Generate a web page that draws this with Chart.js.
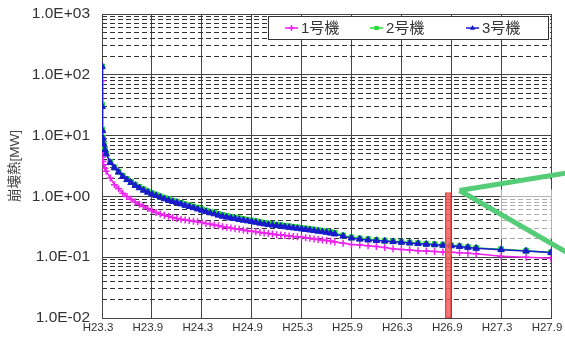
<!DOCTYPE html>
<html><head><meta charset="utf-8">
<script src="https://cdn.jsdelivr.net/npm/chart.js@4.4.1/dist/chart.umd.min.js"></script>
<style>html,body{margin:0;padding:0;background:#fff;}#wrap{width:565px;height:338px;position:relative;}</style>
</head><body><div id="wrap"><canvas id="c" width="565" height="338"></canvas></div>
<script>
const seriesNames = ['1号機', '2号機', '3号機'];
// months elapsed since H23.3
const months = [0, 0.02, 0.05, 0.1, 0.2, 0.35,
  0.5, 1, 1.5, 2, 2.5, 3, 3.5, 4, 4.5, 5, 5.5, 6, 6.5, 7, 7.5, 8, 8.5, 9, 9.5, 10,
  10.5, 11, 11.5, 12, 12.5, 13, 13.5, 14, 14.5, 15, 15.5, 16, 16.5, 17, 17.5, 18, 18.5, 19, 19.5, 20,
  20.5, 21, 21.5, 22, 22.5, 23, 23.5, 24, 24.5, 25, 25.5, 26, 26.5, 27, 27.5, 28,
  29, 30, 31, 32, 33, 34, 35, 36, 37, 38, 39, 40, 41, 42, 43, 44, 45,
  48, 51, 54];
const unit1 = [80, 8, 4.4, 3.8, 3.3, 2.9,
  2.6, 2.0, 1.56, 1.34, 1.13, 1.0, 0.9, 0.81, 0.74, 0.68, 0.63, 0.58, 0.545, 0.515, 0.49, 0.47, 0.45, 0.435, 0.42, 0.41,
  0.4, 0.39, 0.382, 0.372, 0.36, 0.35, 0.34, 0.328, 0.318, 0.31, 0.302, 0.294, 0.287, 0.28, 0.273, 0.267, 0.262, 0.256, 0.25, 0.245,
  0.24, 0.235, 0.231, 0.227, 0.223, 0.219, 0.216, 0.212, 0.208, 0.204, 0.2, 0.196, 0.192, 0.188, 0.184, 0.178,
  0.17, 0.162, 0.158, 0.154, 0.15, 0.145, 0.138, 0.134, 0.131, 0.128, 0.126, 0.124, 0.122, 0.121, 0.118, 0.116, 0.114,
  0.104, 0.1, 0.096];
const unit2 = [137, 32, 12.5, 9.3, 7.4, 6.0,
  5.1, 3.7, 3.0, 2.56, 2.18, 1.93, 1.73, 1.56, 1.43, 1.31, 1.21, 1.13, 1.07, 1.0, 0.95, 0.9, 0.85, 0.82, 0.78, 0.74,
  0.71, 0.68, 0.65, 0.615, 0.585, 0.56, 0.54, 0.515, 0.495, 0.475, 0.46, 0.45, 0.435, 0.423, 0.412, 0.4, 0.39, 0.378, 0.367, 0.358,
  0.35, 0.343, 0.336, 0.329, 0.322, 0.315, 0.309, 0.302, 0.296, 0.29, 0.284, 0.278, 0.272, 0.266, 0.259, 0.25,
  0.228, 0.212, 0.203, 0.197, 0.192, 0.187, 0.183, 0.179, 0.174, 0.17, 0.166, 0.163, 0.16, 0.157, 0.152, 0.147, 0.142,
  0.135, 0.128, 0.12];
const unit3 = [137, 30, 12, 9, 7.2, 5.8,
  5.0, 3.6, 2.95, 2.5, 2.12, 1.88, 1.68, 1.51, 1.38, 1.26, 1.17, 1.09, 1.03, 0.97, 0.91, 0.86, 0.82, 0.79, 0.75, 0.71,
  0.68, 0.65, 0.62, 0.59, 0.56, 0.535, 0.515, 0.49, 0.47, 0.455, 0.44, 0.43, 0.415, 0.405, 0.395, 0.385, 0.375, 0.362, 0.352, 0.343,
  0.336, 0.33, 0.323, 0.316, 0.309, 0.303, 0.297, 0.291, 0.285, 0.279, 0.273, 0.267, 0.262, 0.256, 0.248, 0.24,
  0.222, 0.206, 0.198, 0.192, 0.188, 0.184, 0.18, 0.176, 0.171, 0.167, 0.163, 0.16, 0.157, 0.154, 0.15, 0.145, 0.14,
  0.133, 0.126, 0.119];
const xTickMonths = [0, 6, 12, 18, 24, 30, 36, 42, 48, 54];
const xTickLabels = ['H23.3', 'H23.9', 'H24.3', 'H24.9', 'H25.3', 'H25.9', 'H26.3', 'H26.9', 'H27.3', 'H27.9'];
const yTickValues = [0.01, 0.1, 1, 10, 100, 1000];
const yTickLabels = ['1.0E-02', '1.0E-01', '1.0E+00', '1.0E+01', '1.0E+02', '1.0E+03'];
const highlightMonth = [41.65];
const highlightRange = [0.01, 1.16];
const yTitle = '崩壊熱[MW]';

const colors = ['#ee22ee', '#22dd33', '#1a1acc'];
const styles = ['cross', 'rect', 'triangle'];
const radii = [3.5, 3.5, 3.8];
const seriesValues = [unit1, unit2, unit3];
const FONT = "'Liberation Sans', 'Noto Sans CJK JP', sans-serif";

// minor grid values (2..9 x decade)
const yMinorValues = [];
for (let i = 0; i < yTickValues.length - 1; i++) {
  for (let k = 2; k <= 9; k++) yMinorValues.push(+(yTickValues[i] * k).toPrecision(3));
}

function drawMarker(ctx, style, x, y, r, color) {
  ctx.save();
  ctx.strokeStyle = color; ctx.fillStyle = color; ctx.lineWidth = 1.5;
  ctx.beginPath();
  if (style === 'cross') {
    ctx.moveTo(x - r, y); ctx.lineTo(x + r, y); ctx.moveTo(x, y - r); ctx.lineTo(x, y + r); ctx.stroke();
  } else if (style === 'rect') {
    const s = r * Math.SQRT1_2; ctx.rect(x - s, y - s, 2 * s, 2 * s); ctx.fill();
  } else {
    ctx.moveTo(x, y - r); ctx.lineTo(x + r * 0.9, y + r * 0.6); ctx.lineTo(x - r * 0.9, y + r * 0.6); ctx.closePath(); ctx.fill();
  }
  ctx.restore();
}

const decorPlugin = {
  id: 'decor',
  afterDatasetsDraw(chart) {
    const ctx = chart.ctx, a = chart.chartArea, xs = chart.scales.x, ys = chart.scales.y;
    ctx.save();
    ctx.fillStyle = 'rgba(255,255,255,0.6)';
    const ox = xs.getPixelForValue(47.9), oy1 = ys.getPixelForValue(1.3), oy2 = ys.getPixelForValue(0.2);
    ctx.fillRect(ox, oy1, a.right + 2 - ox, oy2 - oy1);
    const vx = xs.getPixelForValue(43.0), vy = ys.getPixelForValue(1.25);
    ctx.strokeStyle = '#55cc77'; ctx.lineWidth = 5; ctx.lineCap = 'butt';
    ctx.beginPath(); ctx.moveTo(vx, vy); ctx.lineTo(chart.width + 2, vy - 17.5); ctx.stroke();
    ctx.beginPath(); ctx.moveTo(vx, vy); ctx.lineTo(chart.width + 2, vy + 62); ctx.stroke();
    ctx.restore();
  },
  afterDraw(chart) {
    const ctx = chart.ctx, a = chart.chartArea;
    const L = a.right - 283, T = a.top + 2, W = 280, H = 23;
    ctx.save();
    ctx.fillStyle = '#fff'; ctx.fillRect(L, T, W, H);
    ctx.strokeStyle = '#333'; ctx.lineWidth = 1; ctx.strokeRect(Math.round(L) + 0.5, Math.round(T) + 0.5, W, H);
    const starts = [L + 17, L + 102, L + 198];
    ctx.font = '15px ' + FONT; ctx.textBaseline = 'middle';
    const cy = T + H / 2 + 0.5;
    seriesNames.forEach((name, i) => {
      const x0 = starts[i];
      ctx.strokeStyle = colors[i]; ctx.lineWidth = 1.5;
      ctx.beginPath(); ctx.moveTo(x0, cy); ctx.lineTo(x0 + 13, cy); ctx.stroke();
      drawMarker(ctx, styles[i], x0 + 6.5, cy, 3, colors[i]);
      ctx.fillStyle = '#333';
      ctx.fillText(name, x0 + 16, cy + 1);
    });
    ctx.restore();
  }
};

const datasets = seriesNames.map((name, i) => ({
  type: 'line',
  label: name,
  data: months.map((m, j) => ({ x: m, y: seriesValues[i][j] })),
  borderColor: colors[i],
  backgroundColor: colors[i],
  borderWidth: 1.5,
  pointStyle: styles[i],
  pointRadius: radii[i],
  pointBorderWidth: i === 0 ? 1.5 : 1,
  pointBorderColor: colors[i],
  pointBackgroundColor: colors[i],
  tension: 0,
  order: 3 - i
}));
datasets.push({
  type: 'bar',
  label: 'highlight',
  data: highlightMonth.map(m => ({ x: m, y: highlightRange })),
  backgroundColor: 'rgba(240,90,90,0.82)',
  borderColor: '#e04848',
  borderWidth: 1,
  borderSkipped: false,
  barThickness: 6,
  order: -1
});

new Chart(document.getElementById('c'), {
  type: 'line',
  data: { datasets },
  plugins: [decorPlugin],
  options: {
    responsive: false,
    devicePixelRatio: 1,
    animation: false,
    events: [],
    layout: { padding: { left: 0, right: 14, top: 14, bottom: 0 } },
    plugins: { legend: { display: false }, tooltip: { enabled: false }, title: { display: false } },
    scales: {
      x: {
        type: 'linear', min: 0, max: 54, offset: false,
        afterBuildTicks: s => { s.ticks = xTickMonths.map(v => ({ value: v })); },
        afterFit: s => { s.height = 20; s.paddingLeft = 0; s.paddingRight = 0; },
        ticks: {
          autoSkip: false, maxRotation: 0, padding: 3, labelOffset: -4,
          color: '#333', font: { family: FONT, size: 11.5 },
          callback: (v, i) => xTickLabels[i]
        },
        grid: { color: '#444', lineWidth: 1, drawTicks: false, offset: false },
        border: { color: '#444', width: 1 }
      },
      y: {
        type: 'logarithmic', min: 0.01, max: 1000, position: 'left',
        afterBuildTicks: s => { s.ticks = yTickValues.map(v => ({ value: v })); },
        afterFit: s => { s.width = 102; s.paddingTop = 0; s.paddingBottom = 0; },
        ticks: {
          padding: 12, color: '#333', font: { family: FONT, size: 15.5 },
          callback: (v, i) => yTickLabels[i]
        },
        title: { display: true, text: yTitle, color: '#444', font: { family: FONT, size: 13.5 }, padding: { top: 7, bottom: 0 } },
        grid: { color: '#444', lineWidth: 1, drawTicks: false },
        border: { color: '#444', width: 1 }
      },
      yMinor: {
        type: 'logarithmic', min: 0.01, max: 1000, position: 'left',
        afterBuildTicks: s => { s.ticks = yMinorValues.map(v => ({ value: v })); },
        afterFit: s => { s.width = 0; s.paddingTop = 0; s.paddingBottom = 0; },
        ticks: { display: false },
        grid: { color: '#333', lineWidth: 1, drawTicks: false },
        border: { display: false, dash: [5, 3] }
      }
    }
  }
});
</script></body></html>
